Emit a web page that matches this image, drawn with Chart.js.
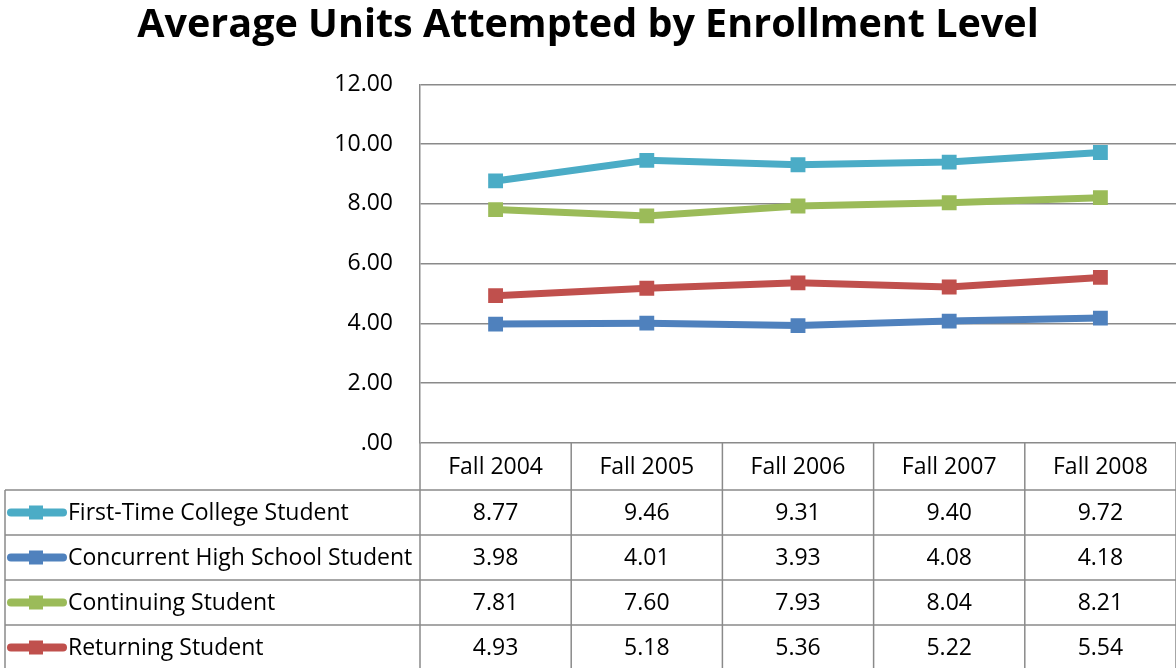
<!DOCTYPE html>
<html>
<head>
<meta charset="utf-8">
<script src="https://cdn.jsdelivr.net/npm/chart.js@4/dist/chart.umd.min.js"></script>
<style>
	html, body { margin: 0; padding: 0; background: #fff; }
	#wrap { width: 1176px; height: 668px; position: relative; }
</style>
</head>
<body>
<div id="wrap"><canvas id="chart"></canvas></div>
<script>
const categories = ['Fall 2004', 'Fall 2005', 'Fall 2006', 'Fall 2007', 'Fall 2008'];
const seriesNames = ['First-Time College Student', 'Concurrent High School Student', 'Continuing Student', 'Returning Student'];
const firstTime = [8.77, 9.46, 9.31, 9.40, 9.72];
const concurrent = [3.98, 4.01, 3.93, 4.08, 4.18];
const continuing = [7.81, 7.60, 7.93, 8.04, 8.21];
const returning = [4.93, 5.18, 5.36, 5.22, 5.54];
const colors = ['#4BACC6', '#4F81BD', '#9BBB59', '#C0504D'];

const FONT = '"Open Sans", "Liberation Sans", sans-serif';
const GRID = '#8a8a8a';

// data table under the plot, drawn from the x scale's columns
const dataTable = {
	id: 'dataTable',
	afterDraw(chart) {
		const ctx = chart.ctx,
			x = chart.scales.x,
			area = chart.chartArea,
			n = categories.length,
			colW = x.width / n,
			headerH = 47,
			rowH = 45,
			left = 5,
			right = chart.width;

		const edges = [];
		for (let i = 0; i <= n; i++) edges.push(x.getPixelForValue(0) - colW / 2 + i * colW);

		ctx.save();
		ctx.strokeStyle = GRID;
		ctx.lineWidth = 1.5;

		// column lines
		edges.forEach(ex => {
			ctx.beginPath();
			ctx.moveTo(ex, area.bottom);
			ctx.lineTo(ex, chart.height);
			ctx.stroke();
		});
		// left border
		ctx.beginPath();
		ctx.moveTo(left, area.bottom + headerH);
		ctx.lineTo(left, chart.height);
		ctx.stroke();
		// row lines
		for (let r = 0; r < seriesNames.length; r++) {
			const y = area.bottom + headerH + r * rowH;
			ctx.beginPath();
			ctx.moveTo(left, y);
			ctx.lineTo(right, y);
			ctx.stroke();
		}

		ctx.fillStyle = '#000';
		ctx.font = '23px ' + FONT;
		ctx.textBaseline = 'middle';
		ctx.textAlign = 'center';
		categories.forEach((c, i) => {
			ctx.fillText(c, x.getPixelForValue(i), area.bottom + headerH / 2 + 1);
		});

		chart.data.datasets.forEach((ds, r) => {
			const cy = area.bottom + headerH + r * rowH + rowH / 2;
			ctx.textAlign = 'center';
			ds.data.forEach((v, i) => {
				ctx.fillText(v.toFixed(2), x.getPixelForValue(i), cy + 1);
			});
			// legend key
			ctx.strokeStyle = ds.borderColor;
			ctx.lineWidth = 8;
			ctx.lineCap = 'round';
			ctx.beginPath();
			ctx.moveTo(11, cy);
			ctx.lineTo(63, cy);
			ctx.stroke();
			ctx.fillStyle = ds.borderColor;
			ctx.fillRect(29, cy - 7, 14, 14);
			ctx.fillStyle = '#000';
			ctx.textAlign = 'left';
			ctx.fillText(ds.label, 68, cy + 1);
		});
		ctx.restore();
	}
};

const allSeries = [firstTime, concurrent, continuing, returning];

new Chart(document.getElementById('chart'), {
	type: 'line',
	data: {
		labels: categories,
		datasets: allSeries.map((d, i) => ({
			label: seriesNames[i],
			data: d,
			borderColor: colors[i],
			backgroundColor: colors[i],
			borderWidth: 7,
			pointStyle: 'rect',
			pointRadius: 10.5,
			pointBorderWidth: 0,
			tension: 0
		}))
	},
	options: {
		responsive: true,
		maintainAspectRatio: false,
		animation: false,
		layout: { autoPadding: false, padding: 0 },
		plugins: {
			legend: { display: false },
			tooltip: { enabled: false },
			title: {
				display: true,
				text: 'Average Units Attempted by Enrollment Level',
				color: '#000',
				font: { family: FONT, size: 39.5, weight: 'bold' },
				padding: { top: 2, bottom: 35 }
			}
		},
		scales: {
			x: {
				offset: true,
				grid: { display: false },
				border: { display: false },
				ticks: { display: false },
				afterFit(scale) { scale.height = 225; }
			},
			y: {
				min: 0,
				max: 12,
				ticks: {
					stepSize: 2,
					padding: 27,
					color: '#000',
					font: { family: FONT, size: 23 },
					callback: v => v === 0 ? '.00' : v.toFixed(2)
				},
				grid: { color: GRID, lineWidth: 1.5, drawTicks: false },
				border: { color: GRID, width: 1.5 },
				afterFit(scale) { scale.width = 420; }
			}
		}
	},
	plugins: [dataTable]
});
</script>
</body>
</html>
